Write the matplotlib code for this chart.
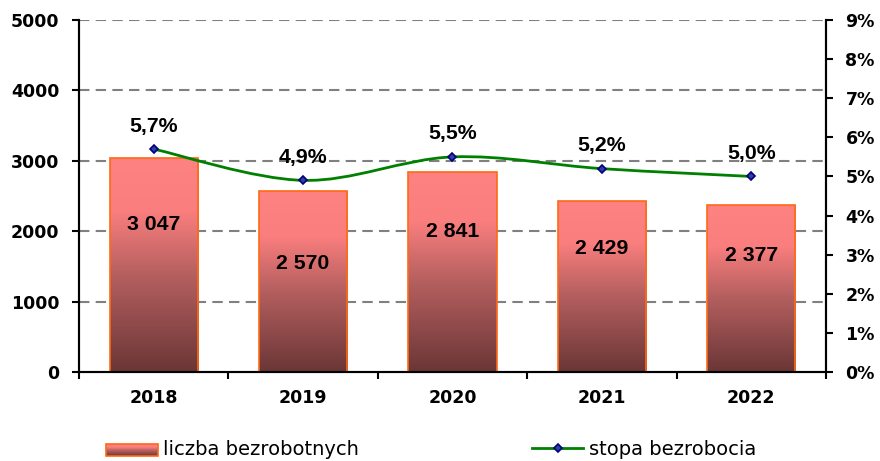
import numpy as np
import matplotlib
matplotlib.use("Agg")
import matplotlib.pyplot as plt
from matplotlib.path import Path
from matplotlib.patches import PathPatch, Patch, Rectangle
from matplotlib.lines import Line2D
from matplotlib.colors import LinearSegmentedColormap
from matplotlib.legend_handler import HandlerBase

years = ["2018", "2019", "2020", "2021", "2022"]
unemployed = [3047, 2570, 2841, 2429, 2377]
unemployed_labels = ["3 047", "2 570", "2 841", "2 429", "2 377"]
rate = [5.7, 4.9, 5.5, 5.2, 5.0]
rate_labels = ["5,7%", "4,9%", "5,5%", "5,2%", "5,0%"]
# heights (in bar units) where the bar labels sit
label_heights = [2100, 1540, 2000, 1760, 1660]

cmap = LinearSegmentedColormap.from_list(
    "barg", [(0, "#6b3636"), (0.45, "#b55f5f"), (0.75, "#fa7e7e"), (1, "#ff8282")])


class GradientHandler(HandlerBase):
    # legend key drawn as a vertical gradient box
    def create_artists(self, legend, orig, xd, yd, width, height, fontsize, trans):
        arts = []
        n = 12
        for i in range(n):
            arts.append(Rectangle((xd, yd + height * i / n), width, height / n + 0.2,
                                  facecolor=cmap((i + 0.5) / n), edgecolor="none",
                                  transform=trans))
        arts.append(Rectangle((xd, yd), width, height, facecolor="none",
                              edgecolor="#ff6a13", lw=1.2, transform=trans))
        return arts


fig = plt.figure(figsize=(8.8, 4.61), dpi=100)
ax = fig.add_axes([0.0898, 0.193, 0.8488, 0.7636])
ax2 = ax.twinx()

x = np.arange(len(years))

# dashed grid
for g in range(1000, 5001, 1000):
    ax.axhline(g, color="#808080", lw=1.5, ls=(0, (5, 3)), zorder=0)

# gradient bars
grad = np.linspace(0, 1, 256).reshape(-1, 1)
bars = ax.bar(x, unemployed, width=0.59, facecolor="none", edgecolor="#ff6a13",
              lw=1.2, zorder=3)
for b in bars:
    x0, y0 = b.get_x(), b.get_y()
    w, h = b.get_width(), b.get_height()
    im = ax.imshow(grad, cmap=cmap, aspect="auto", origin="lower",
                   extent=[x0, x0 + w, y0, y0 + h], zorder=2)
    im.set_clip_path(b)
ax.set_xlim(-0.5, len(years) - 0.5)
ax.set_ylim(0, 5000)
ax2.set_ylim(0, 9)

for xi, lab, hy in zip(x, unemployed_labels, label_heights):
    ax.text(xi, hy, lab, ha="center", va="center", fontsize=15.3, fontweight="bold",
            family="Liberation Sans", color="black", zorder=5)

# smooth line through the rate points (Catmull-Rom -> Bezier)
pts = np.column_stack([x, rate]).astype(float)
verts = [tuple(pts[0])]
codes = [Path.MOVETO]
for i in range(len(pts) - 1):
    p0 = pts[i - 1] if i > 0 else pts[i]
    p1, p2 = pts[i], pts[i + 1]
    p3 = pts[i + 2] if i + 2 < len(pts) else pts[i + 1]
    c1 = p1 + (p2 - p0) / 6.0
    c2 = p2 - (p3 - p1) / 6.0
    verts += [tuple(c1), tuple(c2), tuple(p2)]
    codes += [Path.CURVE4] * 3
ax2.add_patch(PathPatch(Path(verts, codes), facecolor="none", edgecolor="#008000",
                        lw=2, zorder=4))
ax2.plot(x, rate, ls="none", marker="D", ms=4.5, mfc="#3040a0", mec="#000080",
         mew=1.2, zorder=5)
for xi, r, lab in zip(x, rate, rate_labels):
    ax2.annotate(lab, (xi, r), xytext=(0, 16.5), textcoords="offset points",
                 ha="center", va="center", fontsize=15.3, fontweight="bold",
                 family="Liberation Sans")

# axes styling
ax.set_yticks(range(0, 5001, 1000))
ax2.set_yticks(range(0, 10))
ax2.set_yticklabels([f"{v}%" for v in range(0, 10)])
ax.set_xticks(x)
ax.set_xticklabels(years)
ax.set_xticks(np.arange(-0.5, len(years), 1), minor=True)
ax.tick_params(axis="x", which="major", length=0, pad=12, labelsize=12.5)
ax.tick_params(axis="x", which="minor", length=5, width=1.5, direction="out")
ax.tick_params(axis="y", length=5, width=1.5, labelsize=12.5, pad=9)
ax2.tick_params(axis="y", length=5, width=1.5, labelsize=12.5, pad=9)
for lab in ax.get_xticklabels() + ax.get_yticklabels() + ax2.get_yticklabels():
    lab.set_fontweight("bold")
for a in (ax, ax2):
    a.spines["top"].set_visible(False)
    for s in ("left", "right", "bottom"):
        a.spines[s].set_linewidth(1.5)

# legends
h1 = Patch(facecolor="#a85858", edgecolor="#ff6a13", lw=1.2)
h2 = Line2D([], [], color="#008000", lw=2, marker="D", ms=4.5, mfc="#3040a0",
            mec="#000080", mew=1.2)
fig.legend([h1], ["liczba bezrobotnych"], loc="center left", bbox_to_anchor=(0.121, 0.026),
           frameon=False, fontsize=14, handlelength=2.65, handleheight=0.55,
           handletextpad=0.25, borderaxespad=0, borderpad=0,
           handler_map={Patch: GradientHandler()})
fig.legend([h2], ["stopa bezrobocia"], loc="center left", bbox_to_anchor=(0.605, 0.026),
           frameon=False, fontsize=14, handlelength=2.6, handletextpad=0.3,
           borderaxespad=0, borderpad=0)

fig.savefig("out.png", dpi=100)
